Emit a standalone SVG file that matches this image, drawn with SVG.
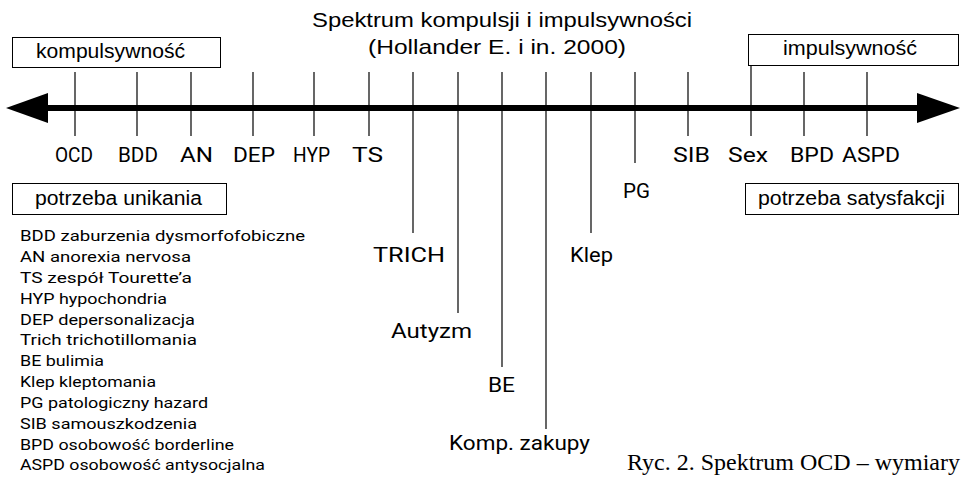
<svg xmlns="http://www.w3.org/2000/svg" width="962" height="478" viewBox="0 0 962 478">
  <style>
    .sans { font-family: "Liberation Sans", Arial, sans-serif; fill: #000; }
    .hand { font-family: Roboto, "DejaVu Sans", sans-serif; fill: #000; }
    .lbl { font-size: 21px; }
    .leg { font-size: 14.5px; }
    .box { fill: #fff; stroke: #000; stroke-width: 1; }
    .tick { stroke: #000; stroke-width: 1.2; fill: none; }
    .axis { stroke: #000; stroke-width: 6; fill: none; }
  </style>
  <rect width="962" height="478" fill="#fff"/>

  <!-- title -->
  <g id="title" class="sans">
    <text x="312" y="27" font-size="21" textLength="380" lengthAdjust="spacingAndGlyphs">Spektrum kompulsji i impulsywności</text>
    <text x="368" y="54" font-size="21" textLength="258" lengthAdjust="spacingAndGlyphs">(Hollander E. i in. 2000)</text>
  </g>

  <!-- corner boxes -->
  <g id="kompulsywnosc">
    <rect class="box" x="12.5" y="37.5" width="208" height="30"/>
    <text class="sans" x="36" y="58" font-size="20" textLength="149" lengthAdjust="spacingAndGlyphs">kompulsywność</text>
  </g>
  <g id="impulsywnosc">
    <rect class="box" x="748.5" y="34.5" width="210" height="31"/>
    <text class="sans" x="783" y="55" font-size="20" textLength="134" lengthAdjust="spacingAndGlyphs">impulsywność</text>
  </g>
  <g id="potrzeba-unikania">
    <rect class="box" x="12.5" y="183.5" width="214" height="31"/>
    <text class="sans" x="35" y="205" font-size="20" textLength="167" lengthAdjust="spacingAndGlyphs">potrzeba unikania</text>
  </g>
  <g id="potrzeba-satysfakcji">
    <rect class="box" x="745.5" y="183.5" width="213" height="31"/>
    <text class="sans" x="758" y="205" font-size="20" textLength="187" lengthAdjust="spacingAndGlyphs">potrzeba satysfakcji</text>
  </g>

  <!-- axis and tick connectors -->
  <g id="connectors">
    <line class="axis" x1="46" y1="108" x2="919" y2="108"/>
    <polygon points="6,108 48,93 48,123" fill="#000"/>
    <polygon points="960,108 917,93 917,123" fill="#000"/>
    <line class="tick" x1="75" y1="72" x2="75" y2="136"/>
    <line class="tick" x1="137" y1="72" x2="137" y2="136"/>
    <line class="tick" x1="191" y1="72" x2="191" y2="136"/>
    <line class="tick" x1="253" y1="72" x2="253" y2="136"/>
    <line class="tick" x1="314" y1="72" x2="314" y2="136"/>
    <line class="tick" x1="369" y1="72" x2="369" y2="136"/>
    <line class="tick" x1="413" y1="72" x2="413" y2="233"/>
    <line class="tick" x1="458" y1="72" x2="458" y2="313"/>
    <line class="tick" x1="502" y1="72" x2="502" y2="367"/>
    <line class="tick" x1="546" y1="72" x2="546" y2="429"/>
    <line class="tick" x1="591" y1="72" x2="591" y2="233"/>
    <line class="tick" x1="635" y1="72" x2="635" y2="163"/>
    <line class="tick" x1="688" y1="72" x2="688" y2="136"/>
    <line class="tick" x1="751" y1="65" x2="751" y2="136" stroke-width="1.6"/>
    <line class="tick" x1="804" y1="72" x2="804" y2="136"/>
    <line class="tick" x1="867" y1="72" x2="867" y2="136"/>
  </g>

  <!-- disorder labels along the axis -->
  <g id="OCD"><text class="hand lbl" x="55" y="162" textLength="38" lengthAdjust="spacingAndGlyphs">OCD</text></g>
  <g id="BDD"><text class="hand lbl" x="118" y="162" textLength="40" lengthAdjust="spacingAndGlyphs">BDD</text></g>
  <g id="AN"><text class="hand lbl" x="180" y="162" textLength="33" lengthAdjust="spacingAndGlyphs">AN</text></g>
  <g id="DEP"><text class="hand lbl" x="233" y="162" textLength="42" lengthAdjust="spacingAndGlyphs">DEP</text></g>
  <g id="HYP"><text class="hand lbl" x="293" y="162" textLength="37" lengthAdjust="spacingAndGlyphs">HYP</text></g>
  <g id="TS"><text class="hand lbl" x="352" y="162" textLength="31" lengthAdjust="spacingAndGlyphs">TS</text></g>
  <g id="TRICH"><text class="hand lbl" x="373" y="262" textLength="72" lengthAdjust="spacingAndGlyphs">TRICH</text></g>
  <g id="Autyzm"><text class="hand lbl" x="391" y="338" textLength="81" lengthAdjust="spacingAndGlyphs">Autyzm</text></g>
  <g id="BE"><text class="hand lbl" x="488" y="392" textLength="27" lengthAdjust="spacingAndGlyphs">BE</text></g>
  <g id="Komp-zakupy"><text class="hand lbl" x="449" y="450" textLength="141" lengthAdjust="spacingAndGlyphs">Komp. zakupy</text></g>
  <g id="Klep"><text class="hand lbl" x="570" y="262" textLength="43" lengthAdjust="spacingAndGlyphs">Klep</text></g>
  <g id="PG"><text class="hand lbl" x="623" y="198" textLength="27" lengthAdjust="spacingAndGlyphs">PG</text></g>
  <g id="SIB"><text class="hand lbl" x="673" y="162" textLength="37" lengthAdjust="spacingAndGlyphs">SIB</text></g>
  <g id="Sex"><text class="hand lbl" x="728" y="162" textLength="40" lengthAdjust="spacingAndGlyphs">Sex</text></g>
  <g id="BPD"><text class="hand lbl" x="790" y="162" textLength="44" lengthAdjust="spacingAndGlyphs">BPD</text></g>
  <g id="ASPD"><text class="hand lbl" x="842" y="162" textLength="58" lengthAdjust="spacingAndGlyphs">ASPD</text></g>

  <!-- abbreviation legend -->
  <g id="legend" class="hand leg">
    <text x="20" y="241" textLength="285" lengthAdjust="spacingAndGlyphs">BDD zaburzenia dysmorfofobiczne</text>
    <text x="20" y="262" textLength="171" lengthAdjust="spacingAndGlyphs">AN anorexia nervosa</text>
    <text x="20" y="283" textLength="172" lengthAdjust="spacingAndGlyphs">TS zespół Tourette’a</text>
    <text x="20" y="304" textLength="147" lengthAdjust="spacingAndGlyphs">HYP hypochondria</text>
    <text x="20" y="325" textLength="175" lengthAdjust="spacingAndGlyphs">DEP depersonalizacja</text>
    <text x="20" y="345" textLength="177" lengthAdjust="spacingAndGlyphs">Trich trichotillomania</text>
    <text x="20" y="366" textLength="84" lengthAdjust="spacingAndGlyphs">BE bulimia</text>
    <text x="20" y="387" textLength="136" lengthAdjust="spacingAndGlyphs">Klep kleptomania</text>
    <text x="20" y="408" textLength="188" lengthAdjust="spacingAndGlyphs">PG patologiczny hazard</text>
    <text x="20" y="429" textLength="177" lengthAdjust="spacingAndGlyphs">SIB samouszkodzenia</text>
    <text x="20" y="450" textLength="214" lengthAdjust="spacingAndGlyphs">BPD osobowość borderline</text>
    <text x="20" y="470" textLength="245" lengthAdjust="spacingAndGlyphs">ASPD osobowość antysocjalna</text>
  </g>

  <!-- figure caption -->
  <g id="caption">
    <text x="627" y="470" font-family="'Liberation Serif', 'Times New Roman', serif" font-size="23" textLength="333" lengthAdjust="spacingAndGlyphs">Ryc. 2. Spektrum OCD – wymiary</text>
  </g>
</svg>
